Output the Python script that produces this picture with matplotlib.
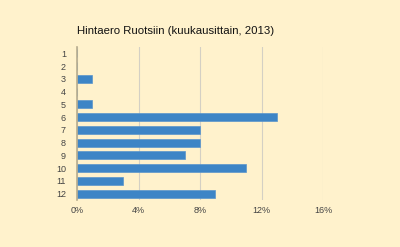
import matplotlib

matplotlib.use("Agg")

import matplotlib.pyplot as plt  # noqa: E402
from matplotlib.ticker import FuncFormatter  # noqa: E402

_BG = "#fff2cc"
_BAR = "#3d85c6"
_GRID = "#d4d0c4"
_TEXT = "#444444"

plt.rcParams["font.family"] = ["Liberation Sans", "DejaVu Sans"]

months = ["1", "2", "3", "4", "5", "6", "7", "8", "9", "10", "11", "12"]
diff_pct = [0, 0, 1, 0, 1, 13, 8, 8, 7, 11, 3, 9]
x_ticks = [0, 4, 8, 12, 16]

fig = plt.figure(figsize=(4.0, 2.47), dpi=100)
fig.patch.set_facecolor(_BG)
ax = fig.add_axes([0.1925, 0.19, 0.615, 0.62])
ax.set_facecolor(_BG)

pos = list(range(len(months)))
ax.barh(pos, diff_pct, height=0.62, color=_BAR, edgecolor="#5a95cc",
        linewidth=0.5, zorder=3)
ax.set_ylim(len(months) - 0.5, -0.5)
ax.set_yticks(pos)
ax.set_yticklabels(months)
ax.set_xlim(0, 16)
ax.set_xticks(x_ticks)
ax.xaxis.set_major_formatter(FuncFormatter(lambda v, _: f"{v:.0f}%"))

ax.grid(axis="x", color=_GRID, linewidth=0.8, zorder=0)
ax.set_axisbelow(True)
for side in ("top", "right", "bottom"):
    ax.spines[side].set_visible(False)
ax.spines["left"].set_color("#b8ad8e")
ax.spines["left"].set_linewidth(1.2)
ax.spines["left"].set_zorder(4)
ax.tick_params(axis="both", length=0, labelsize=6.5, colors=_TEXT)
ax.tick_params(axis="y", pad=8)
ax.tick_params(axis="x", pad=4)

fig.text(0.1925, 0.875, "Hintaero Ruotsiin (kuukausittain, 2013)",
         fontsize=8.2, color="#111111", ha="left", va="center")

fig.savefig("out.png", dpi=100, facecolor=_BG)
